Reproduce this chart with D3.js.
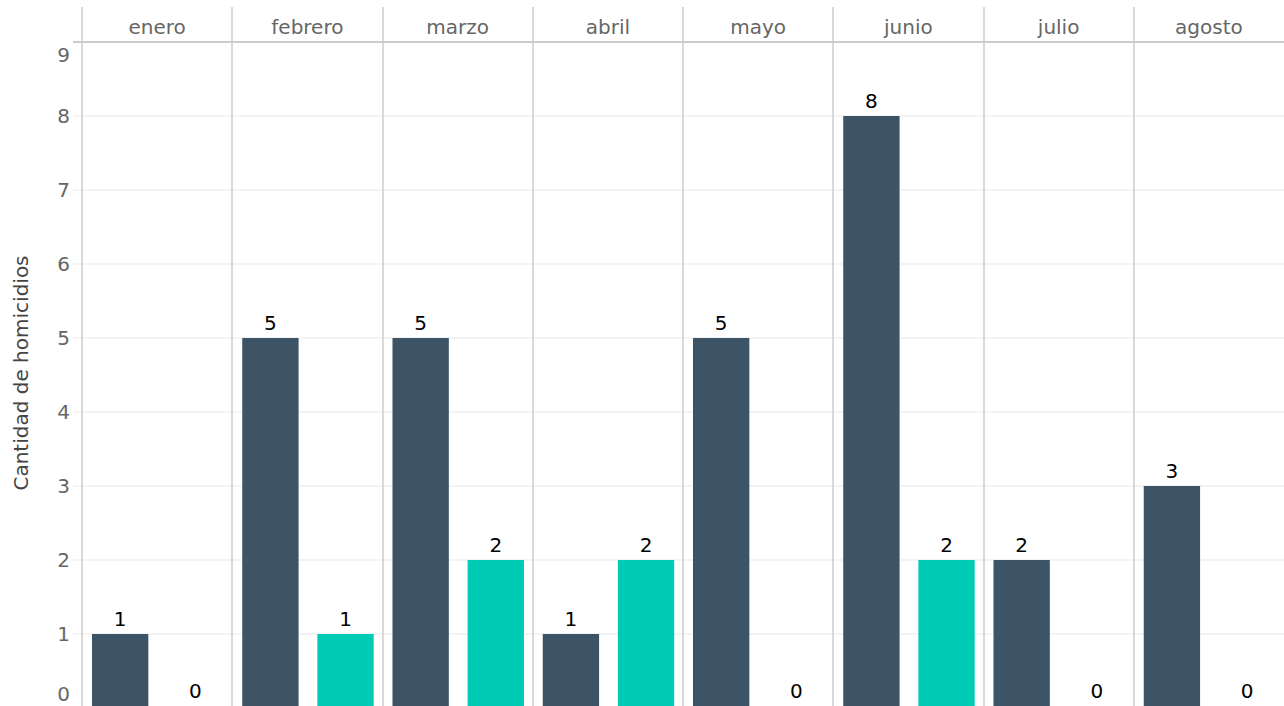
<!DOCTYPE html>
<html><head><meta charset="utf-8">
<script src="https://cdn.jsdelivr.net/npm/d3@7"></script>
<style>body{margin:0;background:#fff}svg{display:block;font-family:"DejaVu Sans",sans-serif}</style>
</head><body><svg id="c" width="1284" height="706"></svg>
<script>
const months = ["enero","febrero","marzo","abril","mayo","junio","julio","agosto"];
const series = ["serie1","serie2"];
const values1 = [1,5,5,1,5,8,2,3];
const values2 = [0,1,2,2,0,2,0,0];
const yTicks = [0,1,2,3,4,5,6,7,8,9];
const colors = ["#3d5467","#00cbb4"];

(function(){
const W=1284,H=706;
const svg=d3.select("#c");
const mLeft=82,mRight=1284,mTop=42;
const y=d3.scaleLinear().domain([0,9]).range([708,mTop]);
const fx=d3.scaleBand().domain(months).range([mLeft,mRight]);
const bx=d3.scaleBand().domain(series).range([0,fx.bandwidth()]).paddingInner(0.25).paddingOuter(0.125);
const color=d3.scaleOrdinal().domain(series).range(colors);

svg.append("g").selectAll("line").data(yTicks.filter(d=>d<9)).join("line")
  .attr("x1",73).attr("x2",mRight).attr("y1",d=>y(d)).attr("y2",d=>y(d))
  .attr("stroke","#efefef").attr("stroke-width",1.5);
svg.append("line").attr("x1",73).attr("x2",mRight).attr("y1",y(9)).attr("y2",y(9))
  .attr("stroke","#cccccc").attr("stroke-width",2);
svg.append("g").selectAll("line").data(months).join("line")
  .attr("x1",d=>Math.round(fx(d))).attr("x2",d=>Math.round(fx(d)))
  .attr("y1",7).attr("y2",H).attr("stroke","#cccccc").attr("stroke-width",1.5);
svg.append("g").selectAll("text").data(months).join("text")
  .attr("x",d=>fx(d)+fx.bandwidth()/2).attr("y",34).attr("text-anchor","middle")
  .attr("font-size",20).attr("fill","#666").text(d=>d);
svg.append("g").selectAll("text").data(yTicks).join("text")
  .attr("x",70).attr("y",d=>Math.max(62,Math.min(H-5,y(d)+7))).attr("text-anchor","end")
  .attr("font-size",20).attr("fill","#666").text(d=>d);
svg.append("text").attr("transform","translate(28,373) rotate(-90)")
  .attr("text-anchor","middle").attr("font-size",20).attr("fill","#444").text("Cantidad de homicidios");

const data=[];
months.forEach((m,i)=>{
  data.push({m,s:series[0],v:values1[i]});
  data.push({m,s:series[1],v:values2[i]});
});
const g=svg.append("g").attr("transform","translate(0.6,0)");
g.selectAll("rect").data(data).join("rect")
  .attr("x",d=>fx(d.m)+bx(d.s)).attr("width",bx.bandwidth())
  .attr("y",d=>y(d.v)).attr("height",d=>y(0)-y(d.v)).attr("fill",d=>color(d.s));
g.selectAll("text").data(data).join("text")
  .attr("x",d=>fx(d.m)+bx(d.s)+bx.bandwidth()/2).attr("y",d=>Math.min(y(d.v),706)-8)
  .attr("text-anchor","middle").attr("font-size",20).attr("fill","#000").text(d=>d.v);
})();
</script></body></html>
